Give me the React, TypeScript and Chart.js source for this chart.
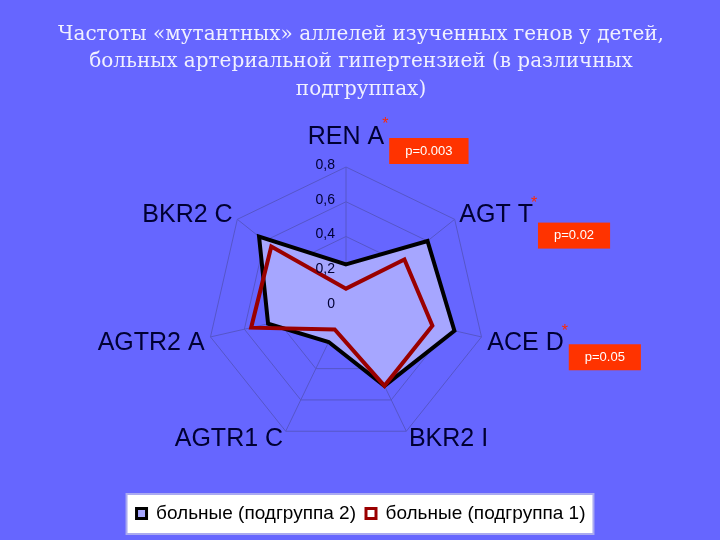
import React, { useEffect, useRef } from 'react';
import { Chart, registerables } from 'chart.js';

Chart.register(...registerables);

const titleLines = [
  'Частоты «мутантных» аллелей изученных генов у детей,',
  'больных артериальной гипертензией (в различных',
  'подгруппах)',
];
const categories = ['REN A', 'AGT T', 'ACE D', 'BKR2 I', 'AGTR1 C', 'AGTR2 A', 'BKR2 C'];
const seriesNames = ['больные (подгруппа 2)', 'больные (подгруппа 1)'];
const group2Values = [0.24, 0.6, 0.64, 0.51, 0.23, 0.46, 0.64];
const group1Values = [0.1, 0.43, 0.51, 0.51, 0.15, 0.56, 0.55];
const tickLabels = ['0', '0,2', '0,4', '0,6', '0,8'];
const pValueCategories = ['REN A', 'AGT T', 'ACE D'];
const pValueTexts = ['p=0.003', 'p=0.02', 'p=0.05'];

const BG = '#6666ff';
const GRID = '#5656c8';
const LABEL_COLOR = '#000033';
const SANS = '"Liberation Sans", Arial, sans-serif';
const LABEL_DY = [0, 0, 5, 2, 2, 5, 0];

const overlayPlugin = {
  id: 'overlay',
  beforeDraw(chart: any) {
    const lg = chart.legend;
    if (!lg || !lg.legendHitBoxes || !lg.legendHitBoxes.length) return;
    const hb = lg.legendHitBoxes;
    const left = Math.min(...hb.map((h: any) => h.left)) - 10;
    const right = Math.max(...hb.map((h: any) => h.left + h.width)) + 8;
    const top = hb[0].top - 10;
    const bottom = hb[0].top + hb[0].height + 11;
    const ctx = chart.ctx;
    ctx.save();
    ctx.fillStyle = '#ffffff';
    ctx.fillRect(left, top, right - left, bottom - top);
    ctx.strokeStyle = '#aaaaf0';
    ctx.lineWidth = 2;
    ctx.strokeRect(left, top, right - left, bottom - top);
    ctx.restore();
  },
  afterDatasetsDraw(chart: any) {
    const s = chart.scales.r;
    const ctx = chart.ctx;
    ctx.save();
    ctx.font = `14px ${SANS}`;
    ctx.fillStyle = LABEL_COLOR;
    ctx.textAlign = 'right';
    ctx.textBaseline = 'middle';
    s.ticks.forEach((t: any) => {
      const d = s.getDistanceFromCenterForValue(t.value);
      ctx.fillText(t.label, s.xCenter - 11, s.yCenter - d - 2);
    });
    ctx.restore();
  },
  afterDraw(chart: any) {
    const s = chart.scales.r;
    const ctx = chart.ctx;
    ctx.save();
    ctx.font = `25px ${SANS}`;
    ctx.fillStyle = LABEL_COLOR;
    ctx.textBaseline = 'middle';
    const boxes: any[] = [];
    categories.forEach((c, i) => {
      const p = s.getPointPosition(i, s.drawingArea + 6);
      const cx = Math.cos(p.angle);
      const x = p.x;
      let y = p.y + LABEL_DY[i];
      let align: CanvasTextAlign = 'center';
      if (Math.abs(cx) < 0.01) {
        y -= 24;
      } else {
        align = cx > 0 ? 'left' : 'right';
      }
      ctx.textAlign = align;
      ctx.fillText(c, x, y);
      const w = ctx.measureText(c).width;
      const right = align === 'center' ? x + w / 2 : align === 'left' ? x + w : x;
      boxes[i] = { right, y };
    });
    const dys = [1, 7, 1];
    pValueCategories.forEach((c, k) => {
      const i = categories.indexOf(c);
      const b = boxes[i];
      ctx.font = `16px ${SANS}`;
      ctx.fillStyle = '#ff2a00';
      ctx.textAlign = 'left';
      ctx.fillText('*', b.right - 2, b.y - 12);
      ctx.font = `13px ${SANS}`;
      const tw = ctx.measureText(pValueTexts[k]).width;
      const bw = tw + 32;
      const bx = b.right + 5;
      const by = b.y + dys[k];
      ctx.fillStyle = '#ff3300';
      ctx.fillRect(bx, by, bw, 26);
      ctx.fillStyle = '#ffffff';
      ctx.textAlign = 'center';
      ctx.fillText(pValueTexts[k], bx + bw / 2, by + 13);
    });
    ctx.restore();
  },
};

export default function App() {
  const ref = useRef<HTMLCanvasElement>(null);
  useEffect(() => {
    const chart = new Chart(ref.current as HTMLCanvasElement, {
      type: 'radar',
      data: {
        labels: categories,
        datasets: [
          {
            label: seriesNames[0],
            data: group2Values,
            borderColor: '#000000',
            backgroundColor: '#a6a6ff',
            borderWidth: 4,
            fill: true,
            pointRadius: 0,
            pointHoverRadius: 0,
            order: 1,
            borderJoinStyle: 'miter',
          },
          {
            label: seriesNames[1],
            data: group1Values,
            borderColor: '#9a0000',
            backgroundColor: 'rgba(0,0,0,0)',
            borderWidth: 4,
            fill: false,
            pointRadius: 0,
            pointHoverRadius: 0,
            order: 0,
            borderJoinStyle: 'miter',
          },
        ],
      },
      options: {
        responsive: false,
        animation: false,
        events: [],
        layout: { padding: { left: 2, right: 0, top: 0, bottom: 7 } },
        plugins: {
          title: {
            display: true,
            text: titleLines,
            color: '#f0f0ff',
            font: { family: '"DejaVu Serif", serif', size: 20, weight: 'normal', lineHeight: 1.375 },
            padding: { top: 21, bottom: 10 },
          },
          legend: {
            position: 'bottom',
            labels: {
              boxWidth: 10,
              boxHeight: 10,
              padding: 10,
              color: '#000000',
              font: { family: SANS, size: 19 },
              sort: (a: any, b: any) => a.datasetIndex - b.datasetIndex,
              generateLabels: (chart: any) => {
                const items = Chart.defaults.plugins.legend.labels.generateLabels(chart);
                items.forEach((it: any) => { it.lineWidth = 3; });
                return items;
              },
            },
          },
          tooltip: { enabled: false },
        },
        scales: {
          r: {
            min: 0,
            max: 0.8,
            ticks: {
              stepSize: 0.2,
              display: false,
              callback: (_v: any, i: number) => tickLabels[i],
            },
            grid: { color: GRID, lineWidth: 1 },
            angleLines: { color: GRID, lineWidth: 1 },
            pointLabels: { display: false },
            afterFit: (s: any) => {
              s.xCenter = 346;
              s.yCenter = 306;
              s.drawingArea = 139;
            },
          },
        },
      },
      plugins: [overlayPlugin],
    } as any);
    return () => chart.destroy();
  }, []);
  return (
    <div style={{ position: 'fixed', left: 0, top: 0, width: 720, height: 540, background: BG }}>
      <canvas ref={ref} width={720} height={540} style={{ display: 'block' }} />
    </div>
  );
}
